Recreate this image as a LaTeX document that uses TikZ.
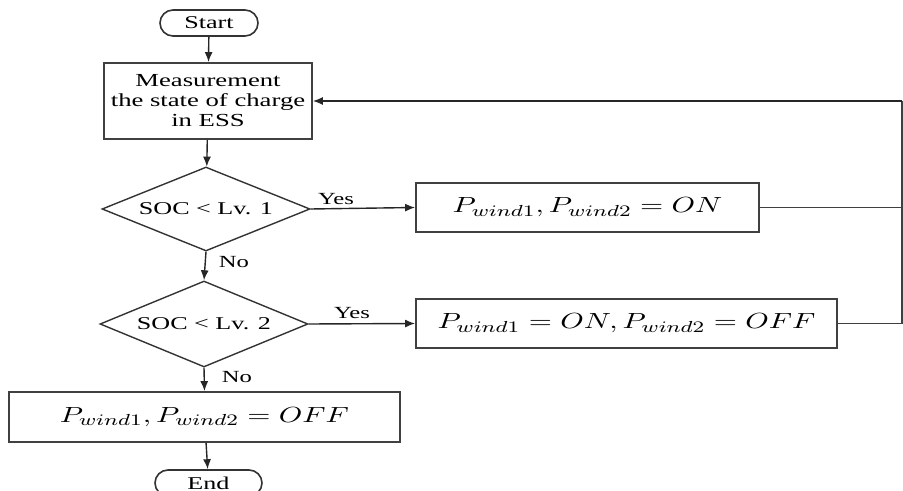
\documentclass[tikz,border=0pt]{standalone}
\usepackage{fontspec}
\usepackage{graphicx}
\setmainfont{Liberation Serif}[FakeStretch=1.45]
\usetikzlibrary{shapes.geometric,shapes.misc,arrows.meta}
\newcommand{\wmath}[1]{\scalebox{1.36}[1]{$#1$}}
\begin{document}
\begin{tikzpicture}[x=0.5pt,y=-0.5pt,
  box/.style={draw=black!75, line width=0.9pt, fill=white, inner sep=1pt, align=center},
  term/.style={draw=black!80, line width=0.8pt, rounded rectangle, inner sep=0pt, font=\fontsize{9}{10}\selectfont},
  dec/.style={draw=black!80, line width=0.7pt, diamond, inner sep=0pt},
  dtext/.style={font=\fontsize{9}{10}\selectfont, inner sep=0pt},
  mtext/.style={font=\fontsize{11}{13}\selectfont},
  arr/.style={-{Latex[length=5pt,width=4pt]}, line width=0.7pt, draw=black!85},
  ln/.style={line width=0.6pt, draw=black!75},
  lab/.style={font=\fontsize{8.5}{10}\selectfont, inner sep=1pt}]
\useasboundingbox (0,0) rectangle (903,491);
\clip (0,0) rectangle (903,491);
\node[term, minimum width=49pt, minimum height=13pt] (start) at (209,23) {Start};
\node[box, inner sep=0pt, minimum width=104pt, minimum height=38pt, font=\fontsize{9.2}{10}\selectfont] (meas) at (208,101) {Measurement\\the state of charge\\in ESS};
\node[dec, minimum width=104pt, minimum height=42pt] (d1) at (206,209) {};
\node[dtext] (t1) at (d1.center) {SOC < Lv. 1};
\node[box, mtext, minimum width=171.5pt, minimum height=24.5pt] (b1) at (587.5,207.5) {\wmath{P_{wind1}, P_{wind2} = ON}};
\node[dec, minimum width=104pt, minimum height=43pt] (d2) at (204,324) {};
\node[dtext] (t2) at (d2.center) {SOC < Lv. 2};
\node[box, mtext, minimum width=210.5pt, minimum height=24.5pt] (b2) at (626.5,323.5) {\wmath{P_{wind1} = ON, P_{wind2} = OFF}};
\node[box, mtext, minimum width=195.5pt, minimum height=25pt] (b3) at (204.5,417) {\wmath{P_{wind1}, P_{wind2} = OFF}};
\node[term, minimum width=53.5pt, minimum height=13pt] (end) at (208.5,483) {End};
\coordinate (r1) at (902,207.5);
\coordinate (r2) at (902,323.5);
\coordinate (rt) at (902,101);
\draw[arr] (start) -- (meas);
\draw[arr] (meas) -- (d1);
\draw[arr] (d1.east) -- (b1.west);
\draw[arr] (d1.south) -- (d2.north);
\draw[arr] (d2.east) -- (b2.west);
\draw[arr] (d2.south) -- (b3.north);
\draw[arr] (b3) -- (end);
\draw[ln] (b1.east) -- (r1);
\draw[ln] (b2.east) -- (r2);
\draw[ln] (r2) -- (rt);
\draw[arr] (rt) -- (meas.east);
\node[lab] (y1) at (336,199) {Yes};
\node[lab] (n1) at (234,262) {No};
\node[lab] (y2) at (352,313) {Yes};
\node[lab] (n2) at (237,377) {No};
\end{tikzpicture}
\end{document}
